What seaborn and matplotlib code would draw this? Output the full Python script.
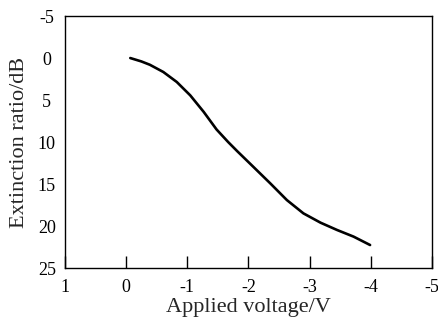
import matplotlib
matplotlib.use("Agg")
import matplotlib.pyplot as plt
import seaborn as sns
import pandas as pd

voltage = [-0.07, -0.25, -0.39, -0.61, -0.83, -1.05, -1.27, -1.48, -1.67, -1.82, -2.08,
           -2.36, -2.63, -2.90, -3.18, -3.45, -3.72, -3.99]
extinction = [0.0, 0.4, 0.80, 1.66, 2.85, 4.44, 6.41, 8.50, 10.0, 11.1, 12.94,
              14.93, 16.91, 18.49, 19.60, 20.47, 21.26, 22.26]
x_ticks = [1, 0, -1, -2, -3, -4, -5]
y_ticks = [-5, 0, 5, 10, 15, 20, 25]

sns.set_theme(style="ticks")
plt.rcParams["font.family"] = ["Liberation Serif", "DejaVu Serif"]

df = pd.DataFrame({"v": voltage, "er": extinction})

fig = plt.figure(figsize=(4.38, 3.21), dpi=100)
ax = fig.add_axes([0.148, 0.165, 0.838, 0.785])
sns.lineplot(data=df, x="v", y="er", ax=ax, color="black", linewidth=1.9, sort=False)

ax.set_xlim(1, -5)
ax.set_ylim(25, -5)
ax.set_xticks(x_ticks)
ax.set_xticklabels([str(t) for t in x_ticks])
ax.set_yticks(y_ticks)
ax.set_yticklabels([str(t) for t in y_ticks], ha="center")
ax.tick_params(axis="x", direction="in", length=8.5, width=1.0, labelsize=13, pad=8, colors="black")
ax.tick_params(axis="y", length=0, labelsize=13, pad=13, colors="black")
for s in ax.spines.values():
    s.set_visible(True)
    s.set_linewidth(1.0)
    s.set_color("black")
ax.set_xlabel("Applied voltage/V", fontsize=16, labelpad=1)
ax.set_ylabel("Extinction ratio/dB", fontsize=16, labelpad=6)

fig.savefig("out.png", dpi=100)
